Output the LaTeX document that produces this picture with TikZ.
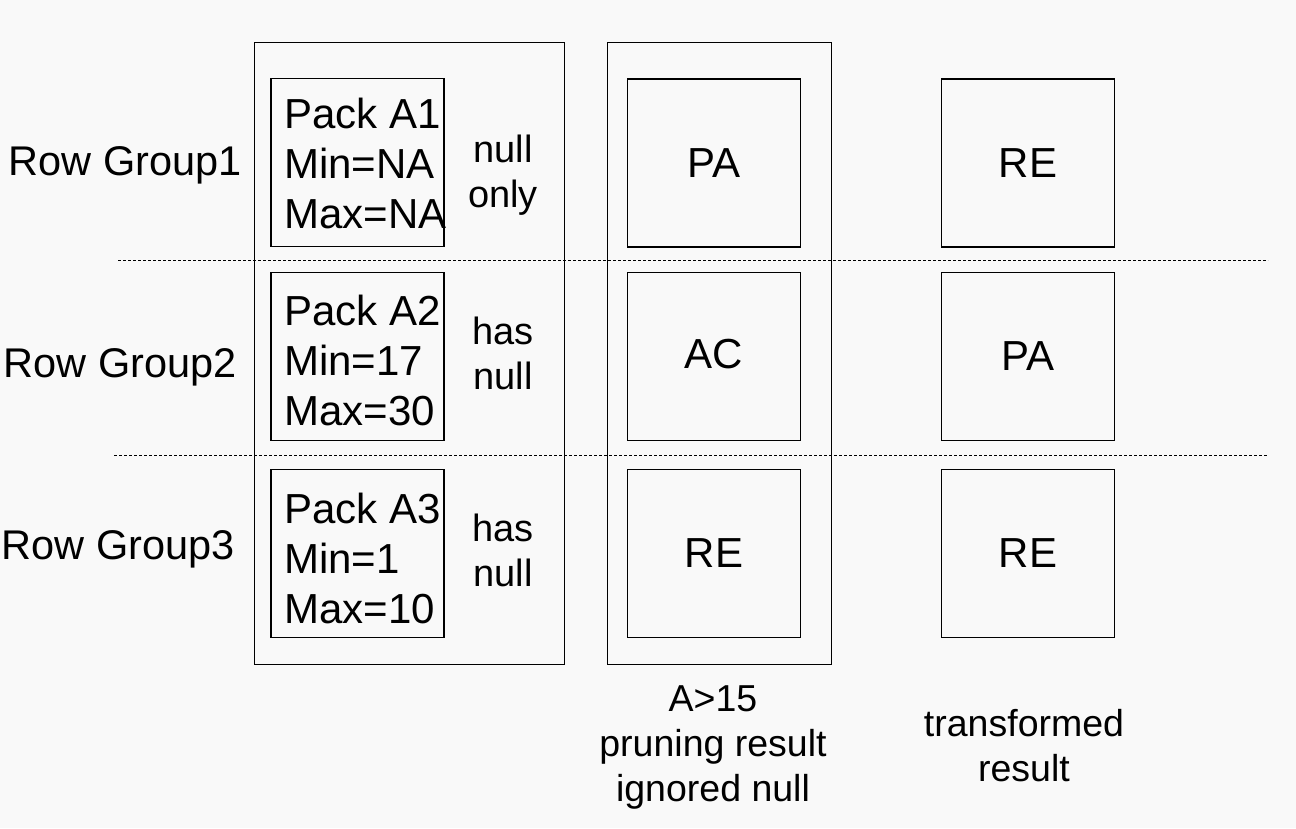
\documentclass[tikz,border=0pt]{standalone}
\usepackage{fontspec}
\setmainfont{Liberation Sans}
\begin{document}
\begin{tikzpicture}[x=1pt,y=-1pt,
  outer/.style={draw=black,line width=1pt},
  cell/.style={draw=black,line width=1.8pt,minimum width=173pt,minimum height=168pt,inner sep=0pt,
     font=\fontsize{42}{50}\selectfont},
  packtxt/.style={anchor=west,align=left,inner sep=0pt,font=\fontsize{42}{50}\selectfont},
  side/.style={align=center,inner sep=0pt,font=\fontsize{38}{45}\selectfont},
  rowlbl/.style={inner sep=0pt,font=\fontsize{41.5}{50}\selectfont},
  caption/.style={align=center,inner sep=0pt,font=\fontsize{37.5}{45}\selectfont},
  sep/.style={draw=black,line width=0.8pt,dash pattern=on 3pt off 2pt}]
\fill[fill={rgb,255:red,249;green,249;blue,249}] (0,0) rectangle (1296,828);
\useasboundingbox (0,0) rectangle (1296,828);
% outer boxes
\node[outer,minimum width=310pt,minimum height=622pt,inner sep=0pt] (outA) at (409,353) {};
\node[outer,minimum width=224pt,minimum height=622pt,inner sep=0pt] (outB) at (719,353) {};
% separators
\coordinate (s1a) at (118,260); \coordinate (s1b) at (1268,260);
\coordinate (s2a) at (114,455); \coordinate (s2b) at (1268,455);
\draw[sep] (s1a) -- (s1b);
\draw[sep] (s2a) -- (s2b);
% row labels
\node[rowlbl] (rg1) at (125,165) {Row Group1};
\node[rowlbl] (rg2) at (120,367) {Row Group2};
\node[rowlbl] (rg3) at (118,549) {Row Group3};
% pack boxes
\node[cell] (p1) at (357.5,162.5) {};
\node[cell] (p2) at (357.5,356.5) {};
\node[cell] (p3) at (357.5,553.5) {};
\node[packtxt] (t1) at ([xshift=14pt,yshift=-1pt]p1.west) {Pack A1\\Min=NA\\Max=NA};
\node[packtxt] (t2) at ([xshift=14pt,yshift=-4pt]p2.west) {Pack A2\\Min=17\\Max=30};
\node[packtxt] (t3) at ([xshift=14pt,yshift=-5pt]p3.west) {Pack A3\\Min=1\\Max=10};
\node[side] (n1) at (503,175) {null\\only};
\node[side] (n2) at (503,353) {has\\null};
\node[side] (n3) at (503,550) {has\\null};
% pruning result
\node[cell] (r1) at (714,163) {PA};
\node[cell] (r2) at (714,356.5) {\raisebox{5pt}{AC}};
\node[cell] (r3) at (714,553.5) {RE};
% transformed
\node[cell] (q1) at (1028,163) {RE};
\node[cell] (q2) at (1028,356.5) {PA};
\node[cell] (q3) at (1028,553.5) {RE};
% captions
\node[caption] (c1) at (713,747) {A>15\\pruning result\\ignored null};
\node[caption] (c2) at (1024,746) {transformed\\result};
\end{tikzpicture}
\end{document}
